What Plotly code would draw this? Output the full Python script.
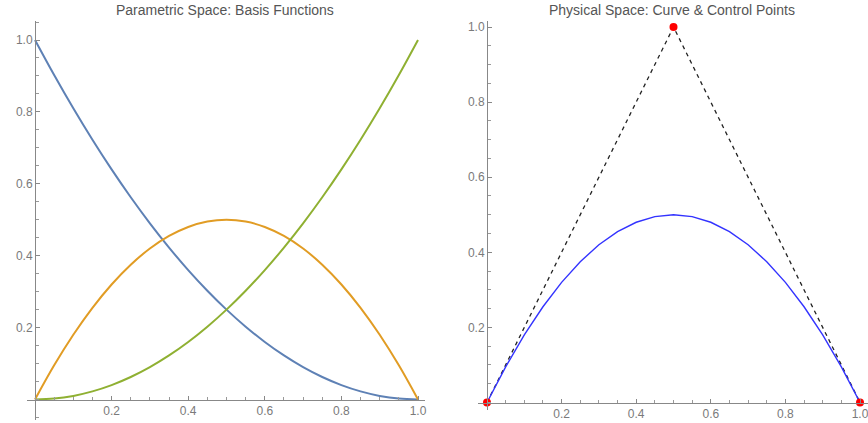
import plotly.graph_objects as go

# ---- data ----
t_vals = [0, 0.05, 0.1, 0.15, 0.2, 0.25, 0.3, 0.35, 0.4, 0.45, 0.5,
          0.55, 0.6, 0.65, 0.7, 0.75, 0.8, 0.85, 0.9, 0.95, 1.0]
basis_0 = [1.0, 0.9025, 0.81, 0.7225, 0.64, 0.5625, 0.49, 0.4225, 0.36, 0.3025, 0.25,
           0.2025, 0.16, 0.1225, 0.09, 0.0625, 0.04, 0.0225, 0.01, 0.0025, 0.0]
basis_1 = [0.0, 0.095, 0.18, 0.255, 0.32, 0.375, 0.42, 0.455, 0.48, 0.495, 0.5,
           0.495, 0.48, 0.455, 0.42, 0.375, 0.32, 0.255, 0.18, 0.095, 0.0]
basis_2 = [0.0, 0.0025, 0.01, 0.0225, 0.04, 0.0625, 0.09, 0.1225, 0.16, 0.2025, 0.25,
           0.3025, 0.36, 0.4225, 0.49, 0.5625, 0.64, 0.7225, 0.81, 0.9025, 1.0]
curve_x = [0, 0.05, 0.1, 0.15, 0.2, 0.25, 0.3, 0.35, 0.4, 0.45, 0.5,
           0.55, 0.6, 0.65, 0.7, 0.75, 0.8, 0.85, 0.9, 0.95, 1.0]
curve_y = [0.0, 0.095, 0.18, 0.255, 0.32, 0.375, 0.42, 0.455, 0.48, 0.495, 0.5,
           0.495, 0.48, 0.455, 0.42, 0.375, 0.32, 0.255, 0.18, 0.095, 0.0]
ctrl_x = [0.0, 0.5, 1.0]
ctrl_y = [0.0, 1.0, 0.0]
tick_vals = [0.2, 0.4, 0.6, 0.8, 1.0]
tick_text = ["0.2", "0.4", "0.6", "0.8", "1.0"]
titles = ["Parametric Space: Basis Functions", "Physical Space: Curve & Control Points"]

W, H = 868, 423
fig = go.Figure()

fig.add_trace(go.Scatter(x=t_vals, y=basis_0, mode="lines", line=dict(color="#5E81B5", width=2, shape="spline"),
                         xaxis="x", yaxis="y", showlegend=False))
fig.add_trace(go.Scatter(x=t_vals, y=basis_1, mode="lines", line=dict(color="#E19C24", width=2, shape="spline"),
                         xaxis="x", yaxis="y", showlegend=False))
fig.add_trace(go.Scatter(x=t_vals, y=basis_2, mode="lines", line=dict(color="#8FB032", width=2, shape="spline"),
                         xaxis="x", yaxis="y", showlegend=False))

fig.add_trace(go.Scatter(x=ctrl_x, y=ctrl_y, mode="lines", line=dict(color="#222222", width=1.3, dash="4px,4px"),
                         xaxis="x2", yaxis="y2", showlegend=False))
fig.add_trace(go.Scatter(x=curve_x, y=curve_y, mode="lines", line=dict(color="#3333FF", width=1.4),
                         xaxis="x2", yaxis="y2", showlegend=False))
fig.add_trace(go.Scatter(x=ctrl_x, y=ctrl_y, mode="markers", marker=dict(color="#FF0000", size=8),
                         xaxis="x2", yaxis="y2", showlegend=False, cliponaxis=False))


def px_x(p):
    return p / W


def px_y(p):
    return (H - p) / H


axis_common = dict(
    automargin=False,
    showgrid=False, zeroline=False, showline=True, linecolor="#888888", linewidth=1,
    ticks="inside", ticklen=4, tickcolor="#888888", tickwidth=1,
    tickvals=tick_vals, ticktext=tick_text, ticklabeloverflow="allow",
    tickfont=dict(family="Liberation Sans, Arial", size=12, color="#7a7a7a"),
    minor=dict(dtick=0.05, tick0=0, ticks="inside", ticklen=2.5, tickcolor="#999999", showgrid=False),
)

# left panel: x0 -> px 35, x1 -> px 418 ; y0 -> px 399.5, y1 -> px 40
lx0, lsx = 35.0, 383.0
ly0, lsy = 399.5, 359.5
L_left, L_right, L_top, L_bot = 27, 425, 21, 420
# right panel: x0 -> 487, x1 -> 860 ; y0 -> 402.5, y1 -> 27
rx0, rsx = 487.0, 373.0
ry0, rsy = 402.5, 375.5
R_left, R_right, R_top, R_bot = 478, 868, 21, 410

fig.update_layout(
    width=W, height=H, autosize=False,
    margin=dict(l=0, r=0, t=0, b=0, pad=0, autoexpand=False),
    paper_bgcolor="white", plot_bgcolor="white",
    xaxis=dict(axis_common, domain=[px_x(L_left), px_x(L_right)],
               range=[(L_left - lx0) / lsx, (L_right - lx0) / lsx],
               anchor="free", position=px_y(ly0)),
    yaxis=dict(axis_common, domain=[px_y(L_bot), px_y(L_top)],
               range=[(ly0 - L_bot) / lsy, (ly0 - L_top) / lsy],
               anchor="free", position=px_x(lx0)),
    xaxis2=dict(axis_common, domain=[px_x(R_left), px_x(R_right)],
                range=[(R_left - rx0) / rsx, (R_right - rx0) / rsx],
                anchor="free", position=px_y(ry0)),
    yaxis2=dict(axis_common, domain=[px_y(R_bot), px_y(R_top)],
                range=[(ry0 - R_bot) / rsy, (ry0 - R_top) / rsy],
                anchor="free", position=px_x(rx0)),
    annotations=[
        dict(text=titles[0], x=px_x(225), y=px_y(10), xref="paper", yref="paper",
             showarrow=False, xanchor="center", yanchor="middle",
             font=dict(family="Liberation Sans, Arial", size=14, color="#555555")),
        dict(text=titles[1], x=px_x(672), y=px_y(10), xref="paper", yref="paper",
             showarrow=False, xanchor="center", yanchor="middle",
             font=dict(family="Liberation Sans, Arial", size=14, color="#555555")),
    ],
)

fig.write_html(
    "out.html",
    config={"displayModeBar": False},
    post_script="document.body.style.margin='0';document.body.style.padding='0';",
)
